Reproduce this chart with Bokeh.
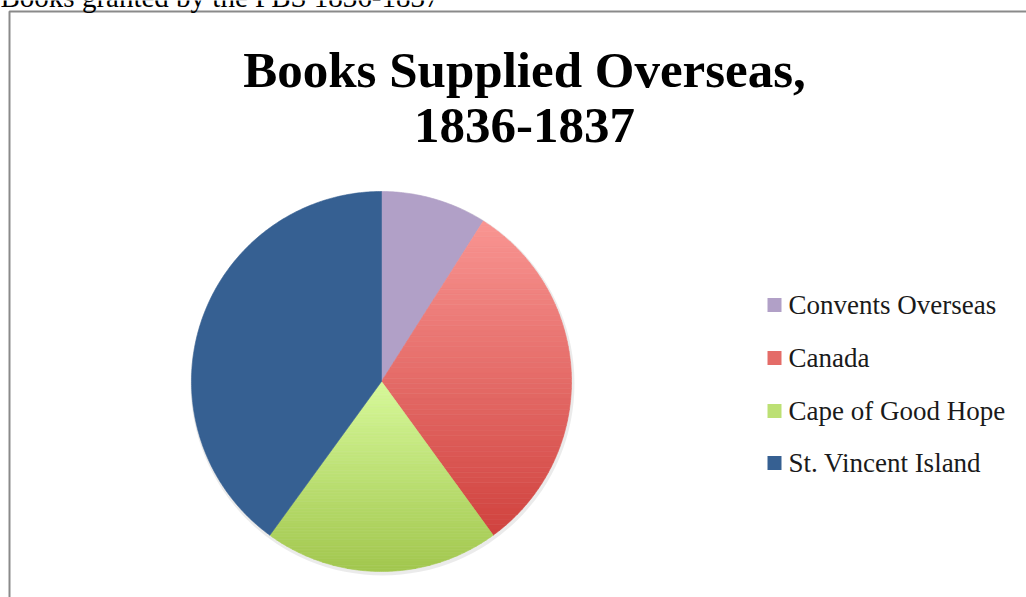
import math
from bokeh.plotting import figure
from bokeh.models import Range1d
from bokeh.core.properties import value
from bokeh.embed import file_html
from bokeh.resources import INLINE

# ---- data ----
categories = ["Convents Overseas", "Canada", "Cape of Good Hope", "St. Vincent Island"]
values = [9, 31, 20, 40]
top_colors = ["#B1A0C7", "#F99592", "#D7F99A", "#366092"]
bottom_colors = ["#B1A0C7", "#D0423E", "#A2C74E", "#366092"]
title_lines = ["Books Supplied Overseas,", "1836-1837"]
caption = "Books granted by the PBS 1836-1837"

W, H = 1026, 597
p = figure(width=W, height=H, output_backend="svg", toolbar_location=None,
           x_range=Range1d(0, W), y_range=Range1d(0, H), min_border=0)
p.axis.visible = False
p.grid.visible = False
p.outline_line_color = None
p.background_fill_color = "white"
p.border_fill_color = "white"

def Y(py):
    return H - py

# pie geometry (page pixels)
cx, cy, r = 381, Y(381), 190

def hexrgb(c):
    c = c.lstrip("#")
    return tuple(int(c[i:i + 2], 16) for i in (0, 2, 4))

def mix(a, b, t):
    A, B = hexrgb(a), hexrgb(b)
    return "#%02x%02x%02x" % tuple(int(round(A[i] + (B[i] - A[i]) * t)) for i in range(3))

def clip_edge(pts, keep, yy):
    out = []
    n = len(pts)
    for i in range(n):
        cur, prev = pts[i], pts[i - 1]
        def inter(a, b):
            t = (yy - a[1]) / (b[1] - a[1])
            return (a[0] + t * (b[0] - a[0]), yy)
        if keep(cur):
            if not keep(prev):
                out.append(inter(prev, cur))
            out.append(cur)
        elif keep(prev):
            out.append(inter(prev, cur))
    return out

total = float(sum(values))
cum = 0.0
xs_all, ys_all, cols = [], [], []
for i, v in enumerate(values):
    a0 = math.pi / 2 - 2 * math.pi * cum / total
    cum += v
    a1 = math.pi / 2 - 2 * math.pi * cum / total
    n = max(8, int(abs(a1 - a0) / 0.01))
    poly = [(cx, cy)] + [(cx + r * math.cos(a0 + (a1 - a0) * k / n),
                          cy + r * math.sin(a0 + (a1 - a0) * k / n)) for k in range(n + 1)]
    ytop = max(pt[1] for pt in poly)
    ybot = min(pt[1] for pt in poly)
    if top_colors[i] == bottom_colors[i]:
        xs_all.append([pt[0] for pt in poly]); ys_all.append([pt[1] for pt in poly])
        cols.append(top_colors[i])
        continue
    nb = 60
    for b in range(nb):
        y1 = ytop - (ytop - ybot) * b / nb
        y0 = ytop - (ytop - ybot) * (b + 1) / nb
        pts = clip_edge(poly, lambda q: q[1] >= y0, y0)
        if pts:
            pts = clip_edge(pts, lambda q: q[1] <= y1, y1)
        if len(pts) < 3:
            continue
        xs_all.append([pt[0] for pt in pts]); ys_all.append([pt[1] for pt in pts])
        cols.append(mix(top_colors[i], bottom_colors[i], (b + 0.5) / nb))

# soft shadow
p.circle(x=[cx + 1], y=[cy - 2], radius=r + 2, fill_color="#000000", fill_alpha=0.08, line_color=None)
p.patches(xs=xs_all, ys=ys_all, fill_color=cols, line_color=cols, line_width=0.6)

# frame
p.quad(left=[9], right=[W + 5], top=[Y(11)], bottom=[-5], fill_color=None,
       line_color="#8a8a8a", line_width=2)

# caption (partly cut off at the top, as in the source)
p.text(x=[0], y=[Y(-4)], text=[caption], text_font=value("Liberation Serif"),
       text_font_size=value("29px"), text_color="#000000", text_baseline="middle",
       text_align="left")

# title
p.text(x=[524, 524], y=[Y(69), Y(125)], text=title_lines,
       text_font=value("Liberation Serif"), text_font_size=value("51px"),
       text_font_style="bold", text_color="#000000", text_align="center",
       text_baseline="middle")

# legend
ly = [Y(304.5), Y(357.5), Y(410.5), Y(462.5)]
legend_colors = [mix(top_colors[i], bottom_colors[i], 0.5) for i in range(len(categories))]
p.rect(x=[774] * 4, y=ly, width=14, height=14, fill_color=legend_colors, line_color=None)
p.text(x=[788] * 4, y=ly, text=categories, text_font=value("Liberation Serif"),
       text_font_size=value("27px"), text_color="#1a1a1a", text_baseline="middle",
       text_align="left")

open("out.html", "w").write(file_html(p, INLINE))
